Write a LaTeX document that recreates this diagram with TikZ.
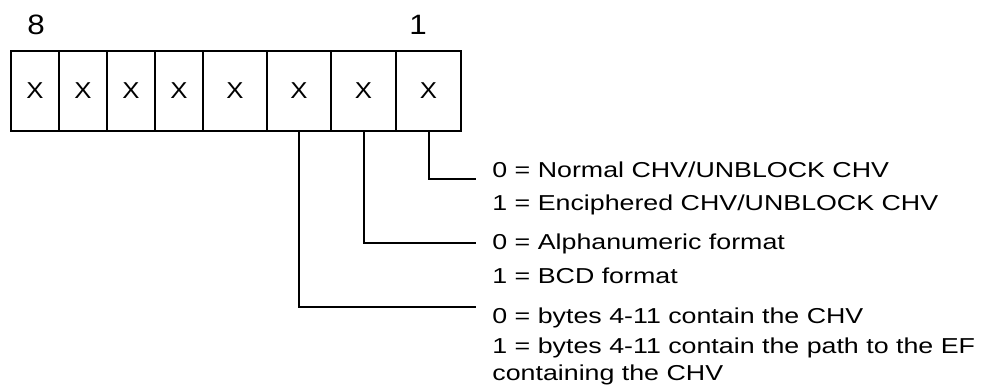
\documentclass[tikz,border=0pt]{standalone}
\usepackage{fontspec}
\setmainfont[FakeStretch=1.24]{Liberation Sans}
\newfontfamily\bitfont[FakeStretch=1.12]{Liberation Sans}
\begin{document}
\begin{tikzpicture}[x=0.5pt,y=-0.5pt,
    bit/.style={draw,line width=1pt,minimum height=40pt,inner sep=0pt,font=\bitfont\fontsize{11.5}{13}\selectfont},
    num/.style={inner sep=0pt,font=\bitfont\fontsize{14}{16}\selectfont},
    desc/.style={anchor=base west,inner sep=0pt,font=\fontsize{10.8}{13}\selectfont},
    wire/.style={black,line width=1pt}]
    \useasboundingbox (0,0) rectangle (981,388);

    \node (hi) [num] at (36,25) {8};
    \node (lo) [num] at (418,25) {1};

    \node (b8) [bit,minimum width=24pt] at (35,91) {X};
    \node (b7) [bit,minimum width=24pt] at (83,91) {X};
    \node (b6) [bit,minimum width=24pt] at (131,91) {X};
    \node (b5) [bit,minimum width=24pt] at (179,91) {X};
    \node (b4) [bit,minimum width=32pt] at (235,91) {X};
    \node (b3) [bit,minimum width=32pt] at (299,91) {X};
    \node (b2) [bit,minimum width=32.5pt] at (363.5,91) {X};
    \node (b1) [bit,minimum width=32.5pt] at (428.5,91) {X};

    \node (t1a) [desc] at (492,177) {0 = Normal CHV/UNBLOCK CHV};
    \node (t1b) [desc] at (492,210) {1 = Enciphered CHV/UNBLOCK CHV};
    \node (t2a) [desc] at (492,249) {0 = Alphanumeric format};
    \node (t2b) [desc] at (492,283) {1 = BCD format};
    \node (t3a) [desc] at (492,323) {0 = bytes 4-11 contain the CHV};
    \node (t3b) [desc] at (492,353) {1 = bytes 4-11 contain the path to the EF};
    \node (t3c) [desc] at (492,380) {containing the CHV};

    \coordinate (e1) at (476,179);
    \coordinate (e2) at (476,243);
    \coordinate (e3) at (476,307);

    \draw [wire] (b1.south) |- (e1);
    \draw [wire] (b2.south) |- (e2);
    \draw [wire] (b3.south) |- (e3);
\end{tikzpicture}
\end{document}
